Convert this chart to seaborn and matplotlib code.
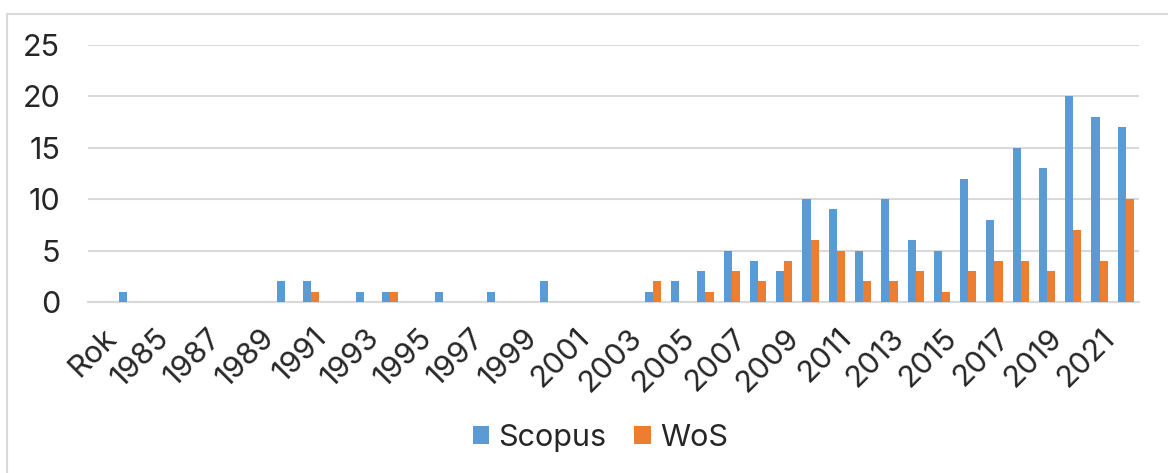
import numpy as np
import pandas as pd
import seaborn as sns
import matplotlib.pyplot as plt
import matplotlib.transforms as mtransforms
from matplotlib.lines import Line2D
from matplotlib.ticker import FixedLocator

# data
categories = ["Rok"] + [str(y) for y in range(1984, 2023)]
scopus = [0, 1, 0, 0, 0, 0, 0, 2, 2, 0, 1, 1, 0, 1, 0, 1, 0, 2, 0, 0, 0, 1,
          2, 3, 5, 4, 3, 10, 9, 5, 10, 6, 5, 12, 8, 15, 13, 20, 18, 17]
wos = [0, 0, 0, 0, 0, 0, 0, 0, 1, 0, 0, 1, 0, 0, 0, 0, 0, 0, 0, 0, 0, 2,
       0, 1, 3, 2, 4, 6, 5, 2, 2, 3, 1, 3, 4, 4, 3, 7, 4, 10]
series = ["Scopus", "WoS"]
colors = ["#5B9BD5", "#ED7D31"]
yticks = [0, 5, 10, 15, 20, 25]

df = pd.DataFrame({
    "Rok": categories * 2,
    "Count": scopus + wos,
    "Source": ["Scopus"] * len(categories) + ["WoS"] * len(categories),
})

sns.set_style("white")
plt.rcParams['font.family'] = ['Inter', 'DejaVu Sans']
fs = 22

fig = plt.figure(figsize=(11.68, 4.73), dpi=100)
ax = fig.add_axes([88 / 1168, 1 - 302 / 473, (1139 - 88) / 1168, (302 - 45) / 473])

sns.barplot(data=df, x="Rok", y="Count", hue="Source", order=categories,
            hue_order=series, palette=colors, saturation=1, width=0.62,
            linewidth=0, ax=ax, zorder=3)

n = len(categories)
ax.set_xlim(-0.5, n - 0.5)
ax.set_ylim(0, 25)
ax.set_yticks(yticks)
ax.set_yticklabels([str(t) for t in yticks], fontsize=fs)
ax.yaxis.grid(True, color="#D9D9D9", linewidth=1.5, zorder=0)
ax.set_axisbelow(True)

ax.set_xticks(range(0, n, 2))
ax.set_xticklabels(categories[::2], rotation=45, ha="right", va="center",
                   rotation_mode="anchor", fontsize=fs)
ax.tick_params(axis="x", which="major", length=0, pad=19)
ax.tick_params(axis="y", length=0, pad=20)
shift = mtransforms.ScaledTranslation(0.11, -0.05, fig.dpi_scale_trans)
for lbl in ax.get_xticklabels():
    lbl.set_transform(lbl.get_transform() + shift)
ax.xaxis.set_minor_locator(FixedLocator(np.arange(-0.5, n, 1.0)))
ax.tick_params(axis="x", which="minor", length=8, width=1.5, color="#D9D9D9")

for s in ["top", "right", "left"]:
    ax.spines[s].set_visible(False)
ax.spines["bottom"].set_color("#D9D9D9")
ax.spines["bottom"].set_linewidth(1.5)

ax.set_xlabel("")
ax.set_ylabel("")

ax.legend_.remove()
handles, labels = ax.get_legend_handles_labels()
fig.legend(handles[:2], series, loc="center", bbox_to_anchor=(0.514, 1 - 438 / 473),
           ncol=2, frameon=False, fontsize=fs, handlelength=0.55, handleheight=0.55,
           handletextpad=0.3, columnspacing=0.9)

# chart border (top and left visible)
fig.add_artist(Line2D([7 / 1168, 1.0], [1 - 14 / 473] * 2, color="#D9D9D9", lw=1.5))
fig.add_artist(Line2D([7 / 1168] * 2, [0, 1 - 14 / 473], color="#D9D9D9", lw=1.5))

fig.savefig("out.png", dpi=100)
